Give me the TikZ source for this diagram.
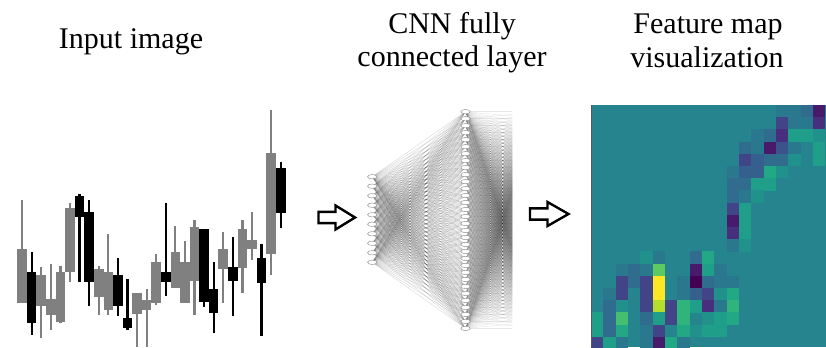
\documentclass[tikz,border=0pt]{standalone}
\usepackage{fontspec}
\setmainfont{Liberation Serif}
\usetikzlibrary{shapes.geometric}
\pgfdeclarelayer{background}
\pgfsetlayers{background,main}

% candle colours
\definecolor{cg}{HTML}{808080}
\definecolor{ck}{HTML}{000000}
% viridis levels used by the heat map
\definecolor{P0}{HTML}{440154}
\definecolor{P1}{HTML}{481A6C}
\definecolor{P2}{HTML}{472F7D}
\definecolor{P3}{HTML}{414487}
\definecolor{P4}{HTML}{3B528B}
\definecolor{B1}{HTML}{355F8D}
\definecolor{B2}{HTML}{2F6C8E}
\definecolor{B3}{HTML}{2A788E}
\definecolor{T0}{HTML}{25848E}
\definecolor{T1}{HTML}{21918C}
\definecolor{G1}{HTML}{1F9E89}
\definecolor{G2}{HTML}{22A884}
\definecolor{G3}{HTML}{2FB47C}
\definecolor{G4}{HTML}{44BF70}
\definecolor{G5}{HTML}{5EC962}
\definecolor{L1}{HTML}{B5DE2B}
\definecolor{YY}{HTML}{FDE725}

\tikzset{
  lbl/.style={font=\fontsize{22.5}{26}\selectfont, anchor=base, inner sep=0pt},
  neuron/.style={ellipse, draw=black!40, line width=0.4pt, fill=white,
    minimum width=7pt, minimum height=3.3pt, inner sep=0pt},
  edge/.style={black, line width=0.35pt, opacity=0.14},
  edgeb/.style={black, line width=0.35pt, opacity=0.09},
  blockarrow/.style={draw=black, line width=1.8pt, fill=white, line join=miter},
}

\begin{document}
\begin{tikzpicture}[x=0.75pt, y=-0.75pt]
\useasboundingbox (0,0) rectangle (826,347);

% ---------- titles ----------
\node[lbl] (tin) at (131,48) {Input image};
\node[lbl] (tcnn1) at (452,33) {CNN fully};
\node[lbl] (tcnn2) at (452,66) {connected layer};
\node[lbl] (tfm1) at (708,33) {Feature map};
\node[lbl] (tfm2) at (707,67) {visualization};

% ---------- candlestick chart ----------
\foreach \i/\c/\bt/\bb/\wt/\wb in {
  1/cg/249/303.3/200/303.3,
  2/ck/272.3/323.3/251.7/335,
  3/cg/274.5/305.5/266.5/338.3,
  4/cg/298.5/315/264/330,
  5/cg/272/321.7/266/323.3,
  6/cg/208.3/272/202.5/281.7,
  7/ck/195.5/216.7/194.3/281.7,
  8/ck/211.7/281.7/200/306.3,
  9/cg/268.5/296.7/265.5/315,
  10/cg/271.7/310/234.3/315,
  11/ck/275/306/257.7/315.5,
  12/ck/318.3/328/278.7/330,
  13/cg/292.7/314/292.7/347,
  14/cg/300/310/289/347,
  15/cg/261.5/303/254.2/305,
  16/ck/271.7/281.5/202.5/296,
  17/cg/251.7/287.5/226.3/288.3,
  18/cg/261.7/303.3/240.5/303.3,
  19/cg/226.5/281/220/315,
  20/ck/229.3/301.7/229.3/306.7,
  21/ck/289.3/312.7/261.7/333.3,
  22/cg/249/268.7/231.7/303.3,
  23/ck/266.7/280.5/236.7/316,
  24/cg/229.3/268.3/220/292.7,
  25/cg/240/248.7/211.8/260,
  26/ck/258.3/283.3/244/335.5,
  27/cg/153.3/254/110/274.5,
  28/ck/168.3/213.3/162.3/228.3}
{
  \pgfmathsetmacro\xl{17.3+9.58*(\i-1)}
  \pgfmathsetmacro\xm{\xl+4.79}
  \fill[\c] ({\xm-1.1},\wt) rectangle ({\xm+1.1},\wb);
  \fill[\c] (\xl,\bt) rectangle ({\xl+9.58},\bb);
}

% ---------- fully connected layer ----------
\foreach \i in {0,...,9}
  \node[neuron] (na\i) at (372.2,{176.7+9.51*\i}) {};
\foreach \j in {0,...,31}
  \node[neuron] (nb\j) at (465.5,{111.7+6.99*\j}) {};
\foreach \k in {0,...,31}
  \coordinate (nc\k) at (540,{111.7+6.99*\k});

\begin{pgfonlayer}{background}
  \foreach \i in {0,...,9}
    \foreach \j in {0,...,31}
      \draw[edge] (na\i.center) -- (nb\j.center);
  \begin{scope}
    \clip (465.5,100) rectangle (512.3,340);
    \foreach \j in {0,...,31}
      \foreach \k in {0,...,31}
        \draw[edgeb] (nb\j.center) -- (nc\k);
  \end{scope}
\end{pgfonlayer}

% ---------- block arrows between panels ----------
\coordinate (ar1) at (318.5,217.5);
\coordinate (ar2) at (530,214);
\draw[blockarrow] (ar1) ++(0,-5.6) -- ++(17,0) -- ++(0,-6.4) -- ++(19.5,12) -- ++(-19.5,12)
  -- ++(0,-6.4) -- ++(-17,0) -- cycle;
\draw[blockarrow] (ar2) ++(0,-5.6) -- ++(17.5,0) -- ++(0,-6.4) -- ++(21,12) -- ++(-21,12)
  -- ++(0,-6.4) -- ++(-17.5,0) -- cycle;

% ---------- feature map ----------
\begin{scope}
  \clip (591,105) rectangle (826,347);
  \fill[T0] (591,105) rectangle (826,347);
  \foreach \c/\r/\col in {
    15/0/B3, 16/0/B3, 17/0/B2, 18/0/P1,
    15/1/P3, 16/1/B3, 17/1/B3, 18/1/P2,
    13/2/B3, 14/2/B2, 15/2/P2, 16/2/G1, 17/2/G1, 18/2/T1,
    12/3/B2, 13/3/B3, 14/3/P1, 15/3/P4, 16/3/B3, 18/3/G1,
    12/4/P3, 13/4/B1, 14/4/B2, 15/4/B2, 16/4/T1, 18/4/G1,
    11/5/B3, 12/5/B1, 13/5/B1, 14/5/G2, 15/5/T1,
    11/6/B2, 12/6/B2, 13/6/G1, 14/6/G1,
    11/7/B2, 12/7/B3, 13/7/T1,
    11/8/P3, 12/8/G1,
    11/9/P1, 12/9/G1,
    11/10/P2, 12/10/G1,
    11/11/B3, 12/11/T1,
    4/12/T1, 5/12/B3, 8/12/B2, 9/12/G2,
    2/13/B3, 3/13/B2, 4/13/B3, 5/13/G5, 8/13/P1, 9/13/G1, 10/13/B3,
    2/14/P3, 3/14/B2, 4/14/P3, 5/14/YY, 7/14/B3, 8/14/P0, 9/14/B2, 10/14/B3, 11/14/B3,
    1/15/B3, 2/15/P3, 4/15/P3, 5/15/YY, 7/15/B3, 8/15/B1, 9/15/P3, 10/15/T1, 11/15/G2,
    1/16/B2, 2/16/T1, 4/16/P3, 5/16/L1, 6/16/P3, 7/16/G3, 8/16/G1, 9/16/P2, 10/16/B3, 11/16/G3,
    0/17/G1, 1/17/B2, 2/17/G4, 4/17/B2, 5/17/G1, 6/17/P3, 7/17/G3, 9/17/T1, 10/17/G1, 11/17/G2,
    0/18/G1, 1/18/B2, 2/18/G2, 4/18/B3, 5/18/P3, 7/18/G2, 8/18/T1, 9/18/G1, 10/18/G1,
    0/19/P3, 1/19/G1, 2/19/B3, 4/19/B3, 5/19/P1, 6/19/G2, 7/19/B3}
  {
    \fill[\col] ({591+\c*12.33},{105+\r*12.2}) rectangle ++(12.43,12.3);
  }
\end{scope}
\draw[black!65, line width=0.9pt] (591.4,105) -- (591.4,347);

\end{tikzpicture}
\end{document}
